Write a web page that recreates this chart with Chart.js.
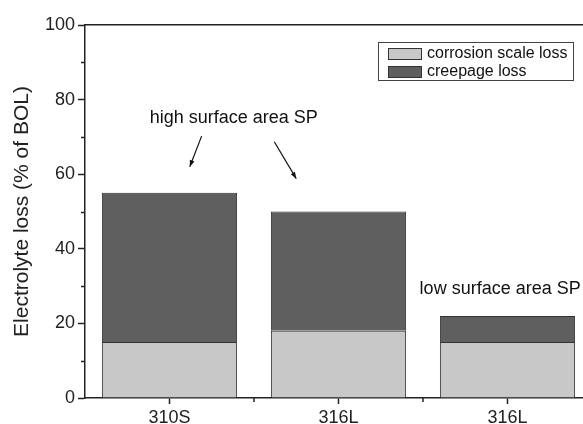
<!DOCTYPE html>
<html>
<head>
<meta charset="utf-8">
<script src="https://cdn.jsdelivr.net/npm/chart.js@4"></script>
<style>
  html, body { margin: 0; padding: 0; background: #fff; overflow: hidden; }
  #wrap { width: 600px; height: 424px; }
</style>
</head>
<body>
<div id="wrap"><canvas id="lossChart" width="600" height="424"></canvas></div>
<script>
const categories = ['310S', '316L', '316L'];
const corrosionLoss = [15, 18, 15];
const creepageLoss = [40, 32, 7];
const seriesNames = ['corrosion scale loss', 'creepage loss'];
const yTicks = [0, 20, 40, 60, 80, 100];
const yMinorTicks = [10, 30, 50, 70, 90];

// notes: x is a category index, y a value on the loss axis
const notes = [
    { text: 'high surface area SP', x: 0.38, y: 75, align: 'center' },
    { text: 'low surface area SP', x: 1.48, y: 29.3, align: 'left' }
];
const arrows = [
    { from: [0.19, 70.2], to: [0.12, 62] },
    { from: [0.62, 68.7], to: [0.75, 58.8] }
];

const lightGrey = '#c8c8c8';
const darkGrey = '#5f5f5f';
const axisColor = '#222';
const fontFamily = '"Liberation Sans", Arial, sans-serif';

const extrasPlugin = {
    id: 'extras',
    afterDraw(chart) {
        const ctx = chart.ctx;
        const x = chart.scales.x;
        const y = chart.scales.y;
        const area = chart.chartArea;
        ctx.save();

        // minor ticks
        ctx.strokeStyle = axisColor;
        ctx.lineWidth = 1.5;
        yMinorTicks.forEach(v => {
            const py = Math.round(y.getPixelForValue(v)) + 0.5;
            ctx.beginPath();
            ctx.moveTo(area.left - 4, py);
            ctx.lineTo(area.left, py);
            ctx.stroke();
        });
        for (let i = 0; i < categories.length - 1; i++) {
            const px = (x.getPixelForValue(i) + x.getPixelForValue(i + 1)) / 2;
            ctx.beginPath();
            ctx.moveTo(px, area.bottom);
            ctx.lineTo(px, area.bottom + 4);
            ctx.stroke();
        }

        // notes
        ctx.fillStyle = '#111';
        ctx.font = '18px ' + fontFamily;
        ctx.textBaseline = 'middle';
        notes.forEach(n => {
            ctx.textAlign = n.align;
            ctx.fillText(n.text, x.getPixelForValue(n.x), y.getPixelForValue(n.y));
        });

        // arrows
        ctx.strokeStyle = '#111';
        ctx.lineWidth = 1.2;
        arrows.forEach(a => {
            const x1 = x.getPixelForValue(a.from[0]), y1 = y.getPixelForValue(a.from[1]);
            const x2 = x.getPixelForValue(a.to[0]), y2 = y.getPixelForValue(a.to[1]);
            ctx.beginPath();
            ctx.moveTo(x1, y1);
            ctx.lineTo(x2, y2);
            ctx.stroke();
            const ang = Math.atan2(y2 - y1, x2 - x1);
            ctx.beginPath();
            ctx.moveTo(x2, y2);
            ctx.lineTo(x2 - 7 * Math.cos(ang - 0.35), y2 - 7 * Math.sin(ang - 0.35));
            ctx.lineTo(x2 - 7 * Math.cos(ang + 0.35), y2 - 7 * Math.sin(ang + 0.35));
            ctx.closePath();
            ctx.fillStyle = '#111';
            ctx.fill();
        });

        // legend box
        const lx = area.left + 293, ly = area.top + 17;
        ctx.strokeStyle = '#444';
        ctx.lineWidth = 1;
        ctx.strokeRect(lx + 0.5, ly + 0.5, 195, 38);
        ctx.font = '16px ' + fontFamily;
        ctx.textAlign = 'left';
        chart.data.datasets.forEach((ds, i) => {
            const sy = ly + 6 + i * 18;
            ctx.fillStyle = ds.backgroundColor;
            ctx.fillRect(lx + 10, sy, 33, 11);
            ctx.strokeStyle = '#333';
            ctx.strokeRect(lx + 10.5, sy + 0.5, 33, 11);
            ctx.fillStyle = '#111';
            ctx.fillText(ds.label, lx + 49, sy + 6);
        });
        ctx.restore();
    }
};

new Chart(document.getElementById('lossChart'), {
    type: 'bar',
    data: {
        labels: categories,
        datasets: [
            {
                label: seriesNames[0],
                data: corrosionLoss,
                backgroundColor: lightGrey,
                borderColor: '#333',
                borderWidth: 1
            },
            {
                label: seriesNames[1],
                data: creepageLoss,
                backgroundColor: darkGrey,
                borderColor: '#333',
                borderWidth: 1
            }
        ]
    },
    options: {
        responsive: false,
        animation: false,
        layout: { padding: { top: 25, right: 8, left: 0, bottom: 0 } },
        datasets: { bar: { categoryPercentage: 1, barPercentage: 0.8 } },
        plugins: { legend: { display: false }, tooltip: { enabled: false } },
        scales: {
            x: {
                stacked: true,
                offset: true,
                grid: { offset: false, drawOnChartArea: false, tickLength: 6, tickWidth: 1.5, tickColor: axisColor },
                border: { display: true, color: axisColor, width: 1.5 },
                ticks: { color: '#222', font: { family: fontFamily, size: 18 }, padding: 3, maxRotation: 0 },
                afterFit(scale) { scale.height = 26; }
            },
            x2: {
                type: 'category',
                labels: categories,
                position: 'top',
                grid: { display: false },
                border: { display: true, color: axisColor, width: 1.5 },
                ticks: { display: false },
                afterFit(scale) { scale.height = 0; }
            },
            y: {
                stacked: true,
                min: 0,
                max: 100,
                afterBuildTicks(scale) { scale.ticks = yTicks.map(v => ({ value: v })); },
                grid: { drawOnChartArea: false, tickLength: 7, tickWidth: 1.5, tickColor: axisColor },
                border: { display: true, color: axisColor, width: 1.5 },
                ticks: { color: '#222', font: { family: fontFamily, size: 18 }, padding: 3 },
                title: {
                    display: true,
                    text: 'Electrolyte loss (% of BOL)',
                    color: '#222',
                    font: { family: fontFamily, size: 21 },
                    padding: { top: 10, bottom: 0 }
                },
                afterFit(scale) { scale.width = 85; }
            }
        }
    },
    plugins: [extrasPlugin]
});
</script>
</body>
</html>
